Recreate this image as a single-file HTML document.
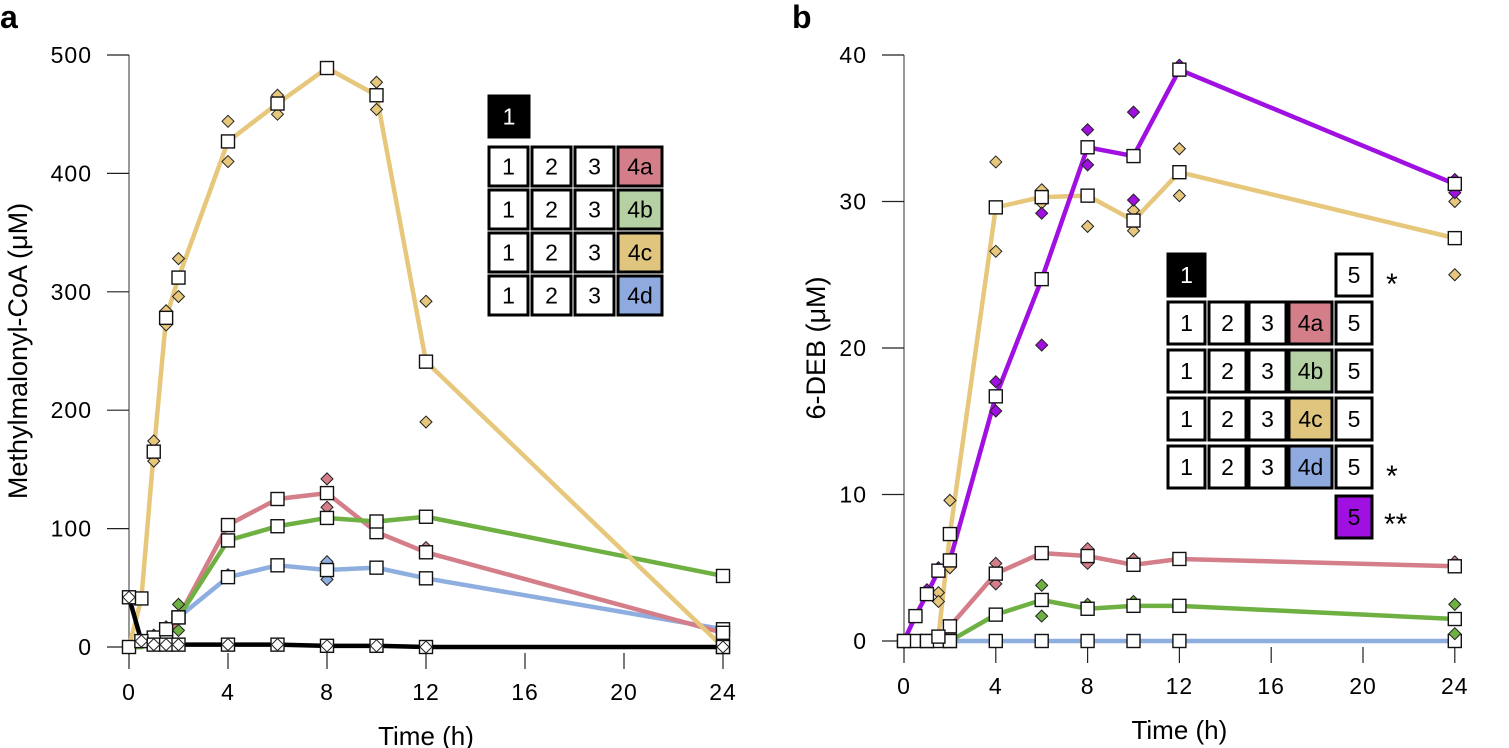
<!DOCTYPE html>
<html><head><meta charset="utf-8"><style>
body{margin:0;background:#fff;}
svg{display:block;font-family:"Liberation Sans",sans-serif;}
</style></head><body>
<svg id="s" width="1509" height="748" viewBox="0 0 1509 748" xmlns="http://www.w3.org/2000/svg"></svg>
<script>
const s=document.getElementById('s');let h='';
const Y='#e6c77b',P='#d47e8a',G='#6fb043',B='#8eaee0',V='#a010e0',K='#000';
function panel(o){
 const X=t=>o.x0+t*o.sx, Yv=v=>o.y0-v*o.sy;
 h+=`<line x1="${o.x0}" y1="${Yv(o.ymax)}" x2="${o.x0}" y2="${o.y0+8}" stroke="#777" stroke-width="1.5"/>`;
 o.yt.forEach(v=>{h+=`<line x1="${o.x0-22}" y1="${Yv(v)}" x2="${o.x0}" y2="${Yv(v)}" stroke="#222" stroke-width="1.2"/><text x="${o.x0-37}" y="${Yv(v)+8}" font-size="23" letter-spacing="1" text-anchor="end">${v}</text>`;});
 [0,4,8,12,16,20,24].forEach(t=>{h+=`<line x1="${X(t)}" y1="${o.y0+6}" x2="${X(t)}" y2="${o.y0+22}" stroke="#222" stroke-width="1.2"/><text x="${X(t)}" y="${o.y0+53}" font-size="23" letter-spacing="1" text-anchor="middle">${t}</text>`;});
 h+=`<text x="${X(12)}" y="${o.y0+98}" font-size="26" text-anchor="middle">Time (h)</text>`;
 h+=`<text transform="translate(${o.lx},${(Yv(o.ymax)+o.y0)/2}) rotate(-90)" font-size="27" text-anchor="middle">${o.ylab}</text>`;
 o.series.forEach(sr=>{
  const pts=sr.m.map(p=>X(p[0])+','+Yv(p[1])).join(' ');
  h+=`<polyline points="${pts}" fill="none" stroke="${sr.c}" stroke-width="4.5" stroke-linejoin="round"/>`;
 });
 o.series.forEach(sr=>{
  (sr.d||[]).forEach(p=>{const cx=X(p[0]),cy=Yv(p[1]);h+=`<polygon points="${cx},${cy-6} ${cx+6},${cy} ${cx},${cy+6} ${cx-6},${cy}" fill="${sr.c}" stroke="#222" stroke-width="1"/>`;});
  sr.m.forEach(p=>{if(p[2]===0)return;const cx=X(p[0]),cy=Yv(p[1]);h+=`<rect x="${cx-6.5}" y="${cy-6.5}" width="13" height="13" fill="#fff" stroke="#111" stroke-width="1.4"/>`;});
  (sr.w||[]).forEach(p=>{const cx=X(p[0]),cy=Yv(p[1]);h+=`<polygon points="${cx},${cy-6} ${cx+6},${cy} ${cx},${cy+6} ${cx-6},${cy}" fill="#fff" stroke="#222" stroke-width="1"/>`;});
 });
}
panel({x0:129,sx:24.75,y0:647,sy:1.184,ymax:500,yt:[0,100,200,300,400,500],lx:27,ylab:'Methylmalonyl-CoA (μM)',series:[
 {c:B,m:[[0,0,0],[0.5,0,0],[1,3],[1.5,5],[2,25],[4,59],[6,69],[8,65],[10,67],[12,58],[24,15]],d:[[8,72],[8,57],[4,61]]},
 {c:P,m:[[0,0,0],[0.5,0,0],[1,3,0],[1.5,5,0],[2,25,0],[4,103],[6,125],[8,130],[10,97],[12,80],[24,12]],d:[[8,142],[8,118],[12,84]]},
 {c:G,m:[[0,0,0],[0.5,0,0],[1,8],[1.5,15],[2,25],[4,90],[6,102],[8,109],[10,106],[12,110],[24,60]],d:[[2,36],[2,14],[1,10],[1.5,17]]},
 {c:Y,m:[[0,0],[0.5,41],[1,165],[1.5,278],[2,312],[4,427],[6,459],[8,489],[10,466],[12,241],[24,0]],d:[[1,174],[1,157],[1.5,284],[1.5,272],[2,328],[2,296],[4,444],[4,410],[6,466],[6,450],[10,477],[10,454],[12,292],[12,190]]},
 {c:K,m:[[0,42],[0.5,5],[1,2],[1.5,2],[2,2],[4,2],[6,2],[8,1],[10,1],[12,0],[24,0]],w:[[0,42],[0.5,5],[1,2],[1.5,2],[2,2],[4,2],[6,2],[8,1],[10,1],[12,0],[24,0]]}
]});
panel({x0:904,sx:22.95,y0:641,sy:14.65,ymax:40,yt:[0,10,20,30,40],lx:825,ylab:'6-DEB (μM)',series:[
 {c:B,m:[[0,0],[0.5,0],[1,0],[1.5,0],[2,0],[4,0],[6,0],[8,0],[10,0],[12,0],[24,0]]},
 {c:G,m:[[1.5,0,0],[2,0],[4,1.8],[6,2.8],[8,2.2],[10,2.4],[12,2.4],[24,1.5]],d:[[6,3.8],[6,1.7],[24,2.5],[24,0.5],[8,2.5],[10,2.7]]},
 {c:P,m:[[1.5,0,0],[2,1],[4,4.6],[6,6],[8,5.8],[10,5.2],[12,5.6],[24,5.1]],d:[[4,5.3],[4,3.9],[8,6.3],[8,5.3],[10,5.6],[24,5.4]]},
 {c:Y,m:[[1,0],[1.5,0.3],[2,7.3],[4,29.6],[6,30.3],[8,30.4],[10,28.7],[12,32],[24,27.5]],d:[[2,9.6],[2,5],[1.5,3.3],[1.5,2.7],[4,32.7],[4,26.6],[6,30.8],[6,29.9],[8,28.3],[10,28],[10,29.4],[12,33.6],[12,30.4],[24,30],[24,25]]},
 {c:V,m:[[0,0],[0.5,1.7],[1,3.2],[1.5,4.8],[2,5.5],[4,16.7],[6,24.7],[8,33.7],[10,33.1],[12,39],[24,31.2]],d:[[4,17.7],[4,15.7],[6,29.2],[6,20.2],[8,34.9],[8,32.5],[10,36.1],[10,30.1],[12,39.3],[24,31.5],[24,30.6],[1,3.5],[1.5,5]]}
]});
function cell(x,y,w,hh,t,bg,fg){h+=`<rect x="${x}" y="${y}" width="${w}" height="${hh}" fill="${bg}" stroke="#000" stroke-width="3"/><text x="${x+w/2}" y="${y+hh/2+8}" font-size="23" text-anchor="middle" fill="${fg||'#000'}">${t}</text>`;}
cell(489,96,40,41,'1','#000','#fff');
[[P,'4a'],['#b5d0a2','4b'],['#e0c57f','4c'],['#8eaade','4d']].forEach((r,i)=>{const y=147+i*43;cell(489,y,39,39,'1','#fff');cell(532,y,39,39,'2','#fff');cell(575,y,39,39,'3','#fff');cell(618,y,44,39,r[1],r[0]);});
cell(1168,254,37,42,'1','#000','#fff');cell(1336,254,36,42,'5','#fff');
[[P,'4a'],['#b5d0a2','4b'],['#e0c57f','4c'],['#8eaade','4d']].forEach((r,i)=>{const y=302+i*48;cell(1168,y,37,42,'1','#fff');cell(1209,y,37,42,'2','#fff');cell(1249,y,37,42,'3','#fff');cell(1289,y,43,42,r[1],r[0]);cell(1336,y,36,42,'5','#fff');});
cell(1336,496,36,42,'5',V);
h+=`<text x="1386" y="294" font-size="30">*</text><text x="1386" y="486" font-size="30">*</text><text x="1384" y="534" font-size="30">**</text>`;
h+=`<text x="0" y="28" font-size="32" font-weight="bold">a</text><text x="792" y="28" font-size="32" font-weight="bold">b</text>`;
s.innerHTML=h;
</script>
</body></html>
